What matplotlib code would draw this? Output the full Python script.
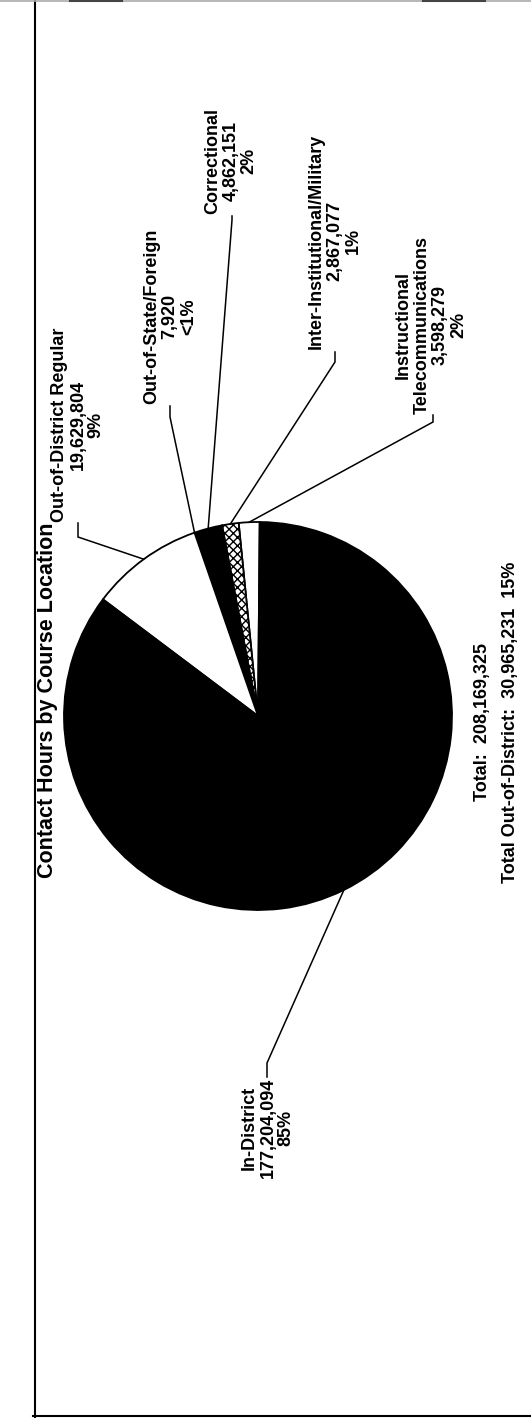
import matplotlib
matplotlib.use("Agg")
import matplotlib.pyplot as plt
import numpy as np

# ---- data ----
categories = ["Instructional\nTelecommunications", "Inter-Institutional/Military",
              "Correctional", "Out-of-State/Foreign", "Out-of-District Regular", "In-District"]
values = [3598279, 2867077, 4862151, 7920, 19629804, 177204094]
pct_labels = ["2%", "1%", "2%", "<1%", "9%", "85%"]
total_label = "Total:  208,169,325"
ood_label = "Total Out-of-District:  30,965,231  15%"
title = "Contact Hours by Course Location"

W, H = 531, 1418
fig = plt.figure(figsize=(W / 100, H / 100), dpi=100)
ax = fig.add_axes([0, 0, 1, 1])

def Y(y):
    return H - y

cx, cy, R = 258, 716, 194
colors = ["white", "white", "black", "black", "white", "black"]
hatches = [None, "xxxx", None, None, None, None]
wedges, _ = ax.pie(values, colors=colors, startangle=89.5, counterclock=True,
                   center=(cx, Y(cy)), radius=R, frame=True,
                   wedgeprops=dict(edgecolor="black", linewidth=1.3))
for w, h in zip(wedges, hatches):
    if h:
        w.set_hatch(h)

ax.set_xlim(0, W)
ax.set_ylim(0, H)
ax.set_aspect("equal")
ax.axis("off")

font = dict(family=["Liberation Sans", "DejaVu Sans"], fontweight="bold",
            fontsize=13, rotation=90, color="black")

layout = {
    "In-District": dict(x=268, y=1078, va="top", stub=[(267, 1077), (267, 1063)]),
    "Out-of-District Regular": dict(x=78, y=522, va="bottom", stub=[(78, 523), (78, 537)]),
    "Out-of-State/Foreign": dict(x=170, y=404, va="bottom", stub=[(170, 406), (170, 417)]),
    "Correctional": dict(x=231, y=214, va="bottom", stub=[(232, 216), (232, 220)]),
    "Inter-Institutional/Military": dict(x=335, y=349, va="bottom", stub=[(335, 352), (335, 362)]),
    "Instructional\nTelecommunications": dict(x=431, y=414, va="bottom", stub=[(433, 415), (433, 422)]),
}

for w, cat, val, pct in zip(wedges, categories, values, pct_labels):
    L = layout[cat]
    txt = f"{cat}\n{val:,}\n{pct}"
    ax.text(L["x"], Y(L["y"]), txt, ha="center", va=L["va"], multialignment="center",
            linespacing=1.1, **font)
    mid = np.deg2rad((w.theta1 + w.theta2) / 2)
    ex = w.center[0] + w.r * np.cos(mid)
    ey = w.center[1] + w.r * np.sin(mid)
    (sx0, sy0), (sx1, sy1) = L["stub"]
    ax.plot([sx0, sx1, ex], [Y(sy0), Y(sy1), ey], color="black", lw=1.1,
            solid_joinstyle="miter")

ax.text(482, Y(722), total_label, ha="center", va="center", **font)
ax.text(510, Y(722), ood_label, ha="center", va="center", **font)
tfont = dict(font)
tfont["fontsize"] = 15.5
ax.text(48, Y(700), title, ha="center", va="center", **tfont)

# frame lines (scanned page border)
ax.plot([35, 35], [Y(0), Y(H)], color="black", lw=1.5)
ax.plot([0, W], [Y(1), Y(1)], color="#aaaaaa", lw=1.2)
ax.plot([70, 122], [Y(1), Y(1)], color="#444444", lw=1.5)
ax.plot([423, 485], [Y(1), Y(1)], color="#444444", lw=1.5)
ax.plot([33, W], [Y(H - 2), Y(H - 2)], color="black", lw=1.5)

fig.savefig("out.png", dpi=100, facecolor="white")
